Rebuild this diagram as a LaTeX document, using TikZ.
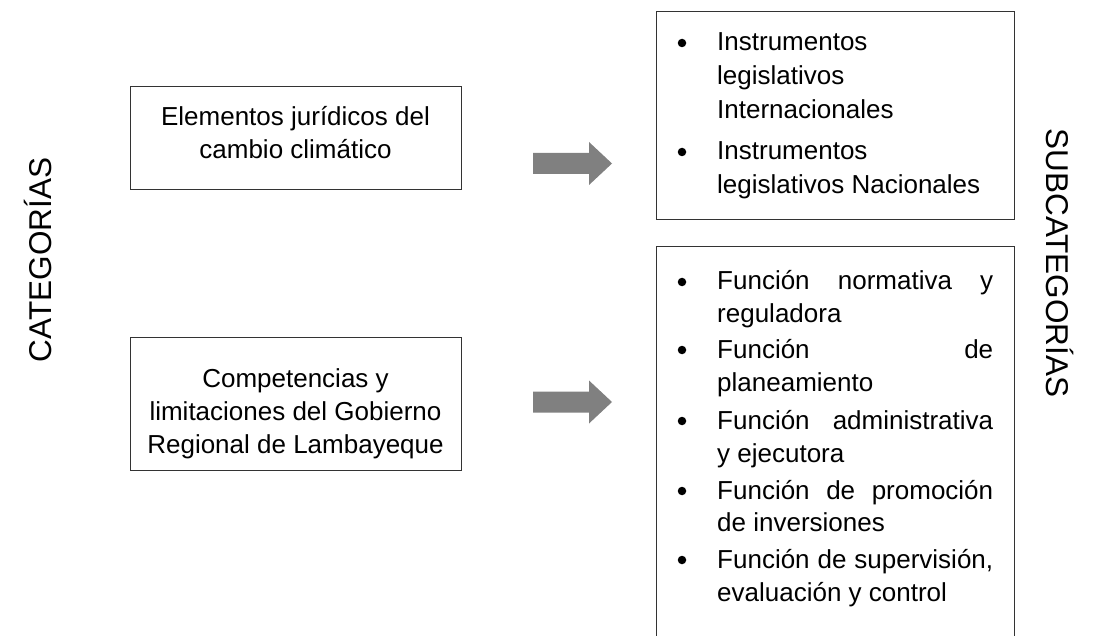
\documentclass[tikz,border=0pt]{standalone}
\usepackage{fontspec}
\setmainfont{Liberation Sans}
\begin{document}
\begin{tikzpicture}[x=1pt,y=-1pt,
  box/.style={draw=black!80,line width=1pt},
  line/.style={anchor=base west,inner sep=0pt,font=\fontsize{26}{32}\selectfont},
  ctext/.style={anchor=base,inner sep=0pt,font=\fontsize{26}{32}\selectfont},
  side/.style={anchor=base,inner sep=0pt,font=\fontsize{31.5}{38}\selectfont},
  blockarrow/.style={fill=black!50,draw=none},
  bullet/.style={circle,fill=black,inner sep=0pt,minimum size=8.5pt}]
\useasboundingbox (0,0) rectangle (1097,636);
\fill[white] (0,0) rectangle (1097,636);
% left boxes
\draw[box] (130,87) rectangle (461,190);
\node[ctext] (e1) at (295.5,126) {Elementos jurídicos del};
\node[ctext] (e2) at (295.5,159) {cambio climático};
\draw[box] (130,337) rectangle (461,470);
\node[ctext] (c1) at (295.5,387) {Competencias y};
\node[ctext] (c2) at (295.5,420) {limitaciones del Gobierno};
\node[ctext] (c3) at (295.5,453) {Regional de Lambayeque};
% side labels
\node[side,rotate=90] (cat) at (51,260) {CATEGORÍAS};
\node[side,rotate=-90] (sub) at (1046,263) {SUBCATEGORÍAS};
% arrows
\coordinate (a1) at (533,142.5);
\coordinate (a2) at (533,381);
\foreach \a in {a1,a2}{
  \fill[blockarrow] ([yshift=-10.5pt]\a) -- ++(56,0) -- ++(0,-11) -- ++(23,21.5) -- ++(-23,21.5) -- ++(0,-11) -- ++(-56,0) -- cycle;
}
% top right box
\draw[box] (656,12) rectangle (1014,220);
\node[bullet] (b1) at (682,43) {};
\node[line] (i1a) at (717,51) {Instrumentos};
\node[line] (i1b) at (717,85) {legislativos};
\node[line] (i1c) at (717,119) {Internacionales};
\node[bullet] (b2) at (682,152) {};
\node[line] (i2a) at (717,160) {Instrumentos};
\node[line] (i2b) at (717,194) {legislativos Nacionales};
% bottom right box (open at the bottom)
\draw[box] (656,640) -- (656,247) -- (1014,247) -- (1014,640);
\node[bullet] (f1) at (682,282) {};
\node[line] (f1a) at (717,290) {\hbox to 276pt{Función\hfill normativa\hfill y}};
\node[line] (f1b) at (717,322) {reguladora};
\node[bullet] (f2) at (682,350) {};
\node[line] (f2a) at (717,358) {\hbox to 276pt{Función\hfill de}};
\node[line] (f2b) at (717,391) {planeamiento};
\node[bullet] (f3) at (682,421) {};
\node[line] (f3a) at (717,429) {\hbox to 276pt{Función\hfill administrativa}};
\node[line] (f3b) at (717,462) {y ejecutora};
\node[bullet] (f4) at (682,491) {};
\node[line] (f4a) at (717,499) {\hbox to 276pt{Función\hfill de\hfill promoción}};
\node[line] (f4b) at (717,531) {de inversiones};
\node[bullet] (f5) at (682,560) {};
\node[line] (f5a) at (717,568) {\hbox to 276pt{Función\hfill de\hfill supervisión,}};
\node[line] (f5b) at (717,601) {evaluación y control};
\end{tikzpicture}
\end{document}
